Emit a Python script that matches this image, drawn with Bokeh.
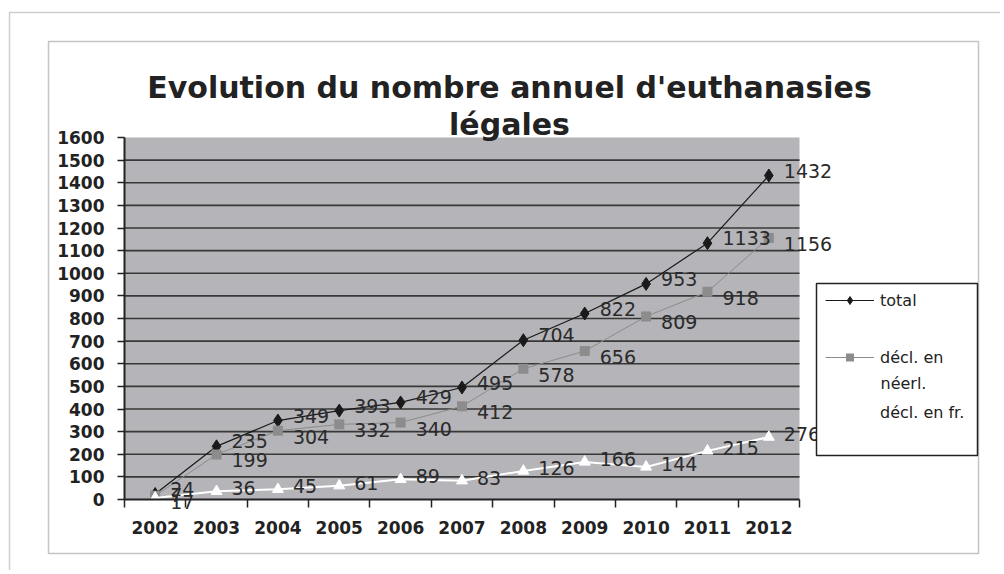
from bokeh.plotting import figure
from bokeh.models import (Range1d, FixedTicker, Label, LabelSet, ColumnDataSource,
                          BoxAnnotation, Legend, LegendItem)
from bokeh.core.properties import value
from bokeh.embed import file_html
from bokeh.resources import INLINE

# ---- data ----
years = ["2002", "2003", "2004", "2005", "2006", "2007", "2008", "2009", "2010", "2011", "2012"]
total = [24, 235, 349, 393, 429, 495, 704, 822, 953, 1133, 1432]
neerl = [17, 199, 304, 332, 340, 412, 578, 656, 809, 918, 1156]
fr = [7, 36, 45, 61, 89, 83, 126, 166, 144, 215, 276]
y_ticks = list(range(0, 1700, 100))
title_lines = ["Evolution du nombre annuel d'euthanasies", "légales"]
legend_labels = ["total", "décl. en", "néerl.", "décl. en fr."]

n = len(years)
xs = [i + 0.5 for i in range(n)]
boundaries = list(range(n + 1))
YMAX = y_ticks[-1]
grid_ys = y_ticks[1:-1]

# ---- layout (pixels) ----
W, H = 1000, 570
PL, PR, PT, PB = 124, 799, 137, 499   # plot area on the canvas
sx = (PR - PL) / n
sy = (PB - PT) / YMAX
x_range = Range1d(-PL / sx, n + (W - PR) / sx)
y_range = Range1d(-(H - PB) / sy, YMAX + PT / sy)

def SY(page_y):
    return H - page_y

FONT = "DejaVu Sans"
TXT = "#222222"

p = figure(width=W, height=H, x_range=x_range, y_range=y_range,
           output_backend="svg", toolbar_location=None,
           min_border_left=0, min_border_right=0, min_border_top=0, min_border_bottom=0,
           background_fill_color="white", border_fill_color="white", outline_line_color=None)

SCR = dict(left_units="screen", right_units="screen", top_units="screen", bottom_units="screen")

# outer decorations
p.add_layout(BoxAnnotation(left=9, right=1200, top=SY(12), bottom=-200, fill_color=None,
                           line_color="#cfcfcf", line_alpha=1, line_width=1.5, level="underlay", **SCR))
p.add_layout(BoxAnnotation(left=48, right=978, top=SY(41), bottom=SY(553), fill_color=None,
                           line_color="#c4c4c4", line_alpha=1, line_width=1.5, level="underlay", **SCR))
# plot area background
p.add_layout(BoxAnnotation(left=0, right=n, bottom=0, top=YMAX, fill_color="#b4b4b9",
                           fill_alpha=1, line_color=None, level="underlay"))

# grid lines limited to the plot area
p.xgrid.visible = False
p.ygrid.visible = False
p.segment(x0=[0] * len(grid_ys), x1=[n] * len(grid_ys), y0=grid_ys, y1=grid_ys,
          line_color="#383838", line_width=1.6)

# y axis
ya = p.yaxis[0]
ya.fixed_location = 0
ya.bounds = (0, YMAX)
ya.ticker = FixedTicker(ticks=y_ticks, minor_ticks=[])
ya.axis_line_color = "#222222"
ya.axis_line_width = 2
ya.major_tick_out = 7
ya.major_tick_in = 0
ya.major_tick_line_width = 1.5
ya.major_tick_line_color = "#222222"
ya.major_label_standoff = 13
ya.major_label_text_font = FONT
ya.major_label_text_font_style = "bold"
ya.major_label_text_font_size = "17px"
ya.major_label_text_color = TXT

# x axis (ticks between categories, labels centred)
xa = p.xaxis[0]
xa.fixed_location = 0
xa.bounds = (0, n)
xa.ticker = FixedTicker(ticks=xs, minor_ticks=boundaries)
xa.major_label_overrides = {x: y for x, y in zip(xs, years)}
xa.axis_line_color = "#222222"
xa.axis_line_width = 2
xa.major_tick_line_color = None
xa.major_tick_out = 7
xa.major_tick_in = 0
xa.minor_tick_out = 8
xa.minor_tick_in = 0
xa.minor_tick_line_width = 1.5
xa.minor_tick_line_color = "#222222"
xa.major_label_standoff = 13
xa.major_label_text_font = FONT
xa.major_label_text_font_style = "bold"
xa.major_label_text_font_size = "17px"
xa.major_label_text_color = TXT

# series
r_t_line = p.line(xs, total, line_color="#1a1a1a", line_width=1.2)
r_t_mk = p.scatter(xs, total, marker="diamond", size=13, fill_color="#1a1a1a", line_color="#1a1a1a")
r_n_line = p.line(xs, neerl, line_color="#8c8c8c", line_width=1)
r_n_mk = p.scatter(xs, neerl, marker="square", size=10, fill_color="#8c8c8c", line_color=None)
r_f_line = p.line(xs, fr, line_color="white", line_width=2)
r_f_mk = p.scatter(xs, fr, marker="triangle", size=11, fill_color="white", line_color="white")

# data labels
for vals, dy in ((total, 5), (neerl, -6), (fr, 3)):
    src = ColumnDataSource(dict(x=xs, y=vals, t=[str(v) for v in vals]))
    p.add_layout(LabelSet(x="x", y="y", text="t", source=src, x_offset=15, y_offset=dy,
                          text_baseline="middle", text_align="left",
                          text_font=value(FONT), text_font_size="19px", text_color="#2a2a2a"))

# title
for txt, yy in zip(title_lines, (SY(87), SY(124))):
    p.add_layout(Label(x=509, y=yy, x_units="screen", y_units="screen", text=txt,
                       text_align="center", text_baseline="alphabetic",
                       text_font=FONT, text_font_style="bold", text_font_size="30px",
                       text_color=TXT))

# legend box
p.add_layout(BoxAnnotation(left=816, right=977, top=SY(283), bottom=SY(455),
                           fill_color="white", fill_alpha=1, line_color="#222222", line_alpha=1,
                           line_width=1.5, **SCR))

def make_legend(label, renderers, loc):
    return Legend(items=[LegendItem(label=label, renderers=renderers)], location=loc,
                  padding=0, margin=0, spacing=0, glyph_width=49, glyph_height=20,
                  label_height=20, label_standoff=6, label_text_font=FONT,
                  label_text_font_size="16px", label_text_color=TXT,
                  border_line_color=None, background_fill_alpha=0)

p.add_layout(make_legend(legend_labels[0], [r_t_line, r_t_mk], (825, SY(310))), "center")
p.add_layout(make_legend(legend_labels[1], [r_n_line, r_n_mk], (825, SY(367))), "center")
p.add_layout(make_legend(legend_labels[3], [r_f_line, r_f_mk], (825, SY(422))), "center")
p.add_layout(Label(x=880, y=SY(383), x_units="screen", y_units="screen", text=legend_labels[2],
                   text_baseline="middle", text_align="left", text_font=FONT,
                   text_font_size="16px", text_color=TXT))

open("out.html", "w").write(file_html(p, INLINE))
